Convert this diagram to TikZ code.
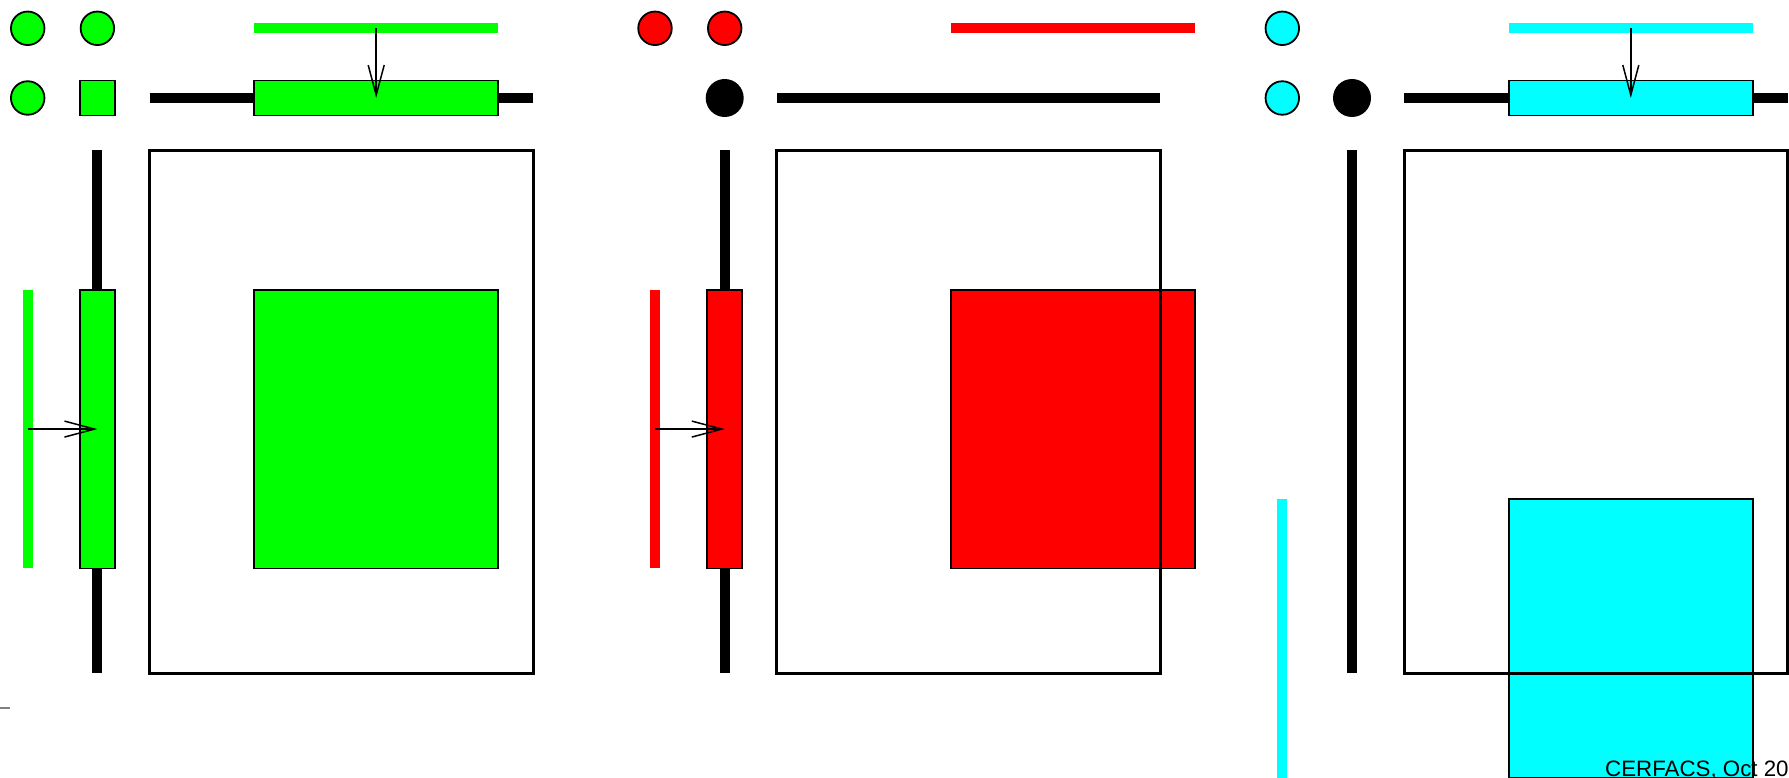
\documentclass[tikz,border=0pt]{standalone}
\usepackage{fontspec}
\setmainfont{Liberation Sans}
\usetikzlibrary{arrows.meta}
\definecolor{pgreen}{RGB}{0,255,0}
\definecolor{pred}{RGB}{255,0,0}
\definecolor{pcyan}{RGB}{0,255,255}
\tikzset{
  dot/.style={circle, draw=black, line width=1.8pt, fill=#1, minimum size=33.5pt, inner sep=0pt, outer sep=0pt},
  blackdot/.style={circle, fill=black, minimum size=38pt, inner sep=0pt, outer sep=0pt},
  sqbox/.style={rectangle, draw=black, line width=1.8pt, fill=#1, minimum width={0.5*69.7pt}, minimum height={0.5*69.7pt}, inner sep=0pt, outer sep=0pt},
  hrect/.style={rectangle, draw=black, line width=1.8pt, fill=#1, minimum width={3.5*69.7pt}, minimum height={0.5*69.7pt}, inner sep=0pt, outer sep=0pt},
  vrect/.style={rectangle, draw=black, line width=1.8pt, fill=#1, minimum width={0.5*69.7pt}, minimum height={4*69.7pt}, inner sep=0pt, outer sep=0pt},
  bigsq/.style={rectangle, draw=black, line width=1.8pt, fill=#1, minimum width={3.5*69.7pt}, minimum height={4*69.7pt}, inner sep=0pt, outer sep=0pt},
  hstrip/.style={rectangle, fill=#1, minimum width={3.5*69.7pt}, minimum height=10pt, inner sep=0pt, outer sep=0pt},
  vstrip/.style={rectangle, fill=#1, minimum width=10pt, minimum height={4*69.7pt}, inner sep=0pt, outer sep=0pt},
  bar/.style={line width=10pt, black},
  frame/.style={line width=3pt, black},
  arr/.style={line width=1.5pt, black, -{Straight Barb[length=30pt,width=16pt]}}
}
\begin{document}
\begin{tikzpicture}[x=69.7pt, y=-69.7pt]
\useasboundingbox (-0.39742,-0.40603) rectangle (25.2697,10.7561);

% ---------- panel 1 (green) ----------
\node[dot=pgreen] (g00) at (0,0) {};
\node[dot=pgreen] (g10) at (1,0) {};
\node[dot=pgreen] (g01) at (0,1) {};
\node[sqbox=pgreen] (g11) at (1,1) {};
\draw[bar] (1.75,1) -- (7.25,1);
\draw[bar] (1,1.75) -- (1,9.25);
\node[hstrip=pgreen] (gtop) at (5,0) {};
\node[hrect=pgreen] (grect) at (5,1) {};
\draw[arr] (gtop.center) -- (grect.center);
\node[vstrip=pgreen] (gleft) at (0,5.75) {};
\node[vrect=pgreen] (gvrect) at (1,5.75) {};
\draw[arr] (gleft.center) -- (gvrect.center);
\node[bigsq=pgreen] (gsq) at (5,5.75) {};
\draw[frame] (1.75,1.75) rectangle (7.25,9.25);

% ---------- panel 2 (red) ----------
\node[dot=pred] (r00) at (9,0) {};
\node[dot=pred] (r10) at (10,0) {};
\node[blackdot] (r11) at (10,1) {};
\draw[bar] (10.75,1) -- (16.25,1);
\draw[bar] (10,1.75) -- (10,9.25);
\node[hstrip=pred] (rtop) at (15,0) {};
\node[vstrip=pred] (rleft) at (9,5.75) {};
\node[vrect=pred] (rvrect) at (10,5.75) {};
\draw[arr] (rleft.center) -- (rvrect.center);
\node[bigsq=pred] (rsq) at (15,5.75) {};
\draw[frame] (10.75,1.75) rectangle (16.25,9.25);

% ---------- panel 3 (cyan) ----------
\node[dot=pcyan] (c00) at (18,0) {};
\node[dot=pcyan] (c01) at (18,1) {};
\node[blackdot] (c11) at (19,1) {};
\draw[bar] (19.75,1) -- (25.25,1);
\draw[bar] (19,1.75) -- (19,9.25);
\node[hstrip=pcyan] (ctop) at (23,0) {};
\node[hrect=pcyan] (crect) at (23,1) {};
\draw[arr] (ctop.center) -- (crect.center);
\node[vstrip=pcyan] (cleft) at (18,8.75) {};
\node[bigsq=pcyan] (csq) at (23,8.75) {};
\draw[frame] (19.75,1.75) rectangle (25.25,9.25);

% ---------- footer ----------
\draw[gray, line width=1.5pt] (-0.45,9.75) -- (-0.254,9.75);
\node[anchor=base west, inner sep=0pt, font=\fontsize{22.3}{26}\selectfont] (cerf) at (22.630,10.737) {CERFACS, Oct 20};
\end{tikzpicture}
\end{document}
